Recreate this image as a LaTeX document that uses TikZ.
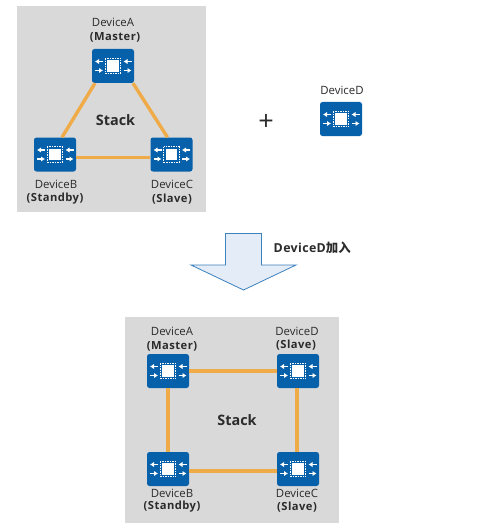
\documentclass[tikz,border=0pt]{standalone}
\usepackage{fontspec}
\setmainfont{Open Sans}
\newfontfamily\cjk{Noto Sans CJK SC}
\usetikzlibrary{calc,arrows.meta}
\definecolor{panel}{HTML}{D9D9D9}
\definecolor{devblue}{HTML}{0760AA}
\definecolor{link}{HTML}{F0AB49}
\definecolor{ink}{HTML}{2B2B2B}
\definecolor{arrowfill}{HTML}{E4ECF7}
\definecolor{arrowline}{HTML}{3C82BE}
\tikzset{
  x=1pt,y=-1pt,
  panelbox/.style={fill=panel,draw=none},
  device/.style={fill=devblue,draw=none,rounded corners=2.5pt,minimum width=42pt,minimum height=34pt,inner sep=0pt},
  linkline/.style={draw=link,line width=3.4pt},
  name label/.style={font=\fontsize{11.4}{13}\selectfont,text=ink,inner sep=0pt},
  role label/.style={font=\fontsize{11.2}{13}\selectfont\bfseries\addfontfeature{LetterSpace=4},text=ink,inner sep=0pt},
  join label/.style={font=\fontsize{12.4}{14}\selectfont\bfseries\addfontfeature{LetterSpace=3},text=ink,inner sep=0pt},
  stack label/.style={font=\fontsize{14.4}{16}\selectfont\bfseries,text=ink,inner sep=0pt},
  pics/chip/.style={code={
    \fill[white] (-5.6,-5.6) rectangle (5.6,5.6);
    \draw[white,line width=1pt,dash pattern=on 1.5pt off 1pt] (-7.6,-7.6) rectangle (7.6,7.6);
    \foreach \yy/\xa/\xb in {-4.5/-10/-18,-4.5/18.5/10.5,4.5/-18/-10,4.5/10.5/18.5}{
      \draw[white,line width=1.4pt,-{Latex[length=4pt,width=5.4pt]}] (\xa,\yy) -- (\xb,\yy);
    }
  }}
}
\begin{document}
\begin{tikzpicture}
\useasboundingbox (0,0) rectangle (476,532);
\fill[white] (0,0) rectangle (476,532);
% panels
\path[panelbox] (17,6) rectangle (206,212);
\path[panelbox] (125,317) rectangle (339,523);
% upper devices
\node[device] (a1) at (113,66) {};
\node[device] (b1) at (55,154.5) {};
\node[device] (c1) at (171.5,154.5) {};
\node[device] (d0) at (341,119) {};
\draw[linkline] ([xshift=-18pt]a1.south) -- ([xshift=7pt]b1.north);
\draw[linkline] ([xshift=20pt]a1.south) -- ([xshift=-4pt]c1.north);
\draw[linkline] ([yshift=-3pt]b1.east) -- ([yshift=-3pt]c1.west);
% lower devices
\node[device] (a2) at (168,371) {};
\node[device] (d2) at (298,371) {};
\node[device] (b2) at (168,469) {};
\node[device] (c2) at (298,469) {};
\draw[linkline] (a2) -- (d2);
\draw[linkline] (a2) -- (b2);
\draw[linkline] ([xshift=-1pt]d2.south) -- ([xshift=-1pt]c2.north);
\draw[linkline] ([yshift=-2pt]b2.east) -- ([yshift=-2pt]c2.west);
\foreach \n in {a1,b1,c1,d0,a2,b2,c2,d2}{\pic at (\n) {chip};}
% labels
\node[name label] (ta1) at (113,22) {DeviceA};
\node[role label] (ra1) at (115,37) {(Master)};
\node[name label] (tb1) at (56,184) {DeviceB};
\node[role label] (rb1) at (55,199) {(Standby)};
\node[name label] (tc1) at (172,184) {DeviceC};
\node[role label] (rc1) at (172,199) {(Slave)};
\node[name label] (td0) at (342,90) {DeviceD};
\node[stack label] (s1) at (115.5,120) {Stack};
\node[name label] (ta2) at (172,331) {DeviceA};
\node[role label] (ra2) at (172,346) {(Master)};
\node[name label] (td2) at (297,331) {DeviceD};
\node[role label] (rd2) at (296,345) {(Slave)};
\node[name label] (tb2) at (172,493) {DeviceB};
\node[role label] (rb2) at (172,507) {(Standby)};
\node[name label] (tc2) at (297,493) {DeviceC};
\node[role label] (rc2) at (297,507) {(Slave)};
\node[stack label] (s2) at (237,420) {Stack};
% plus
\node[inner sep=0pt,text=ink,font=\fontsize{27}{27}\selectfont] (plus) at (266,122) {+};
% arrow
\draw[draw=arrowline,fill=arrowfill,line width=.8pt,line join=miter] (225.5,233.5) -- (261.5,233.5) -- (261.5,265) -- (296,265) -- (243.5,290) -- (191,265) -- (225.5,265) -- cycle;
\node[join label,anchor=west] (joined) at (273.5,248) {DeviceD{\cjk 加入}};
\end{tikzpicture}
\end{document}
